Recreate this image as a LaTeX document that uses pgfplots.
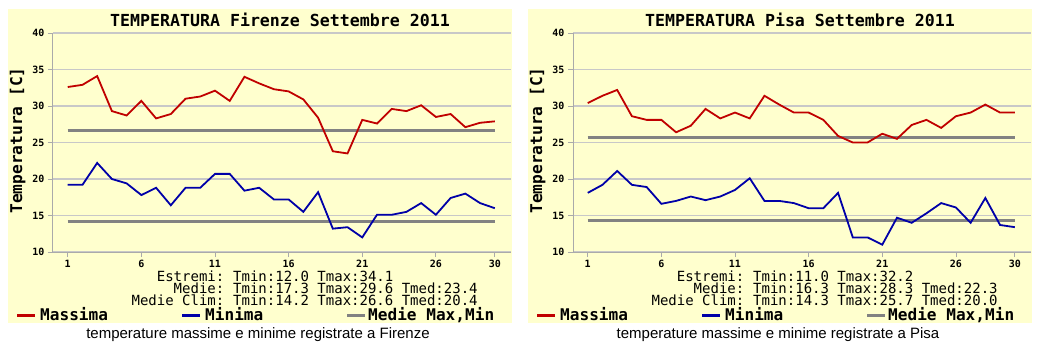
\documentclass[border=0pt]{standalone}
\usepackage{fontspec}
\setmainfont{Liberation Sans}
\newfontfamily\mono{DejaVu Sans Mono}
\usepackage{pgfplots}
\pgfplotsset{compat=1.18}
\definecolor{panel}{RGB}{255,255,206}
\definecolor{tmax}{RGB}{192,0,0}
\definecolor{tmin}{RGB}{0,0,168}
\definecolor{tmed}{RGB}{130,130,130}
\definecolor{gridc}{RGB}{200,200,200}
\definecolor{axc}{RGB}{170,170,170}

\pgfplotstableread{
day fmax fmin pmax pmin
1 32.6 19.2 30.4 18.1
2 32.9 19.2 31.4 19.2
3 34.1 22.2 32.2 21.1
4 29.3 20.0 28.6 19.2
5 28.7 19.4 28.1 18.9
6 30.7 17.8 28.1 16.6
7 28.3 18.8 26.4 17.0
8 28.9 16.4 27.3 17.6
9 31.0 18.8 29.6 17.1
10 31.3 18.8 28.3 17.6
11 32.1 20.7 29.1 18.5
12 30.7 20.7 28.3 20.1
13 34.0 18.4 31.4 17.0
14 33.1 18.8 30.2 17.0
15 32.3 17.2 29.1 16.7
16 32.0 17.2 29.1 16.0
17 30.9 15.5 28.1 16.0
18 28.4 18.2 25.9 18.1
19 23.8 13.2 25.0 12.0
20 23.5 13.4 25.0 12.0
21 28.1 12.0 26.2 11.0
22 27.6 15.1 25.5 14.7
23 29.6 15.1 27.4 14.0
24 29.3 15.5 28.1 15.3
25 30.1 16.7 27.0 16.7
26 28.5 15.1 28.6 16.1
27 28.9 17.4 29.1 14.0
28 27.1 18.0 30.2 17.4
29 27.7 16.7 29.1 13.7
30 27.9 16.0 29.1 13.4
}\datatab

\pgfplotsset{
  meteo/.style={
    anchor=south west,
    scale only axis, width=458pt, height=219pt,
    xmin=0, xmax=31.1, ymin=10, ymax=40,
    axis x line*=bottom, axis y line*=left,
    axis line style={draw=axc, line width=1pt, -},
    xtick={1,6,11,16,21,26,30}, ytick={10,15,...,40},
    ymajorgrids, grid style={draw=gridc, line width=1.2pt},
    tick align=outside, major tick length=5pt,
    tick style={draw=axc, line width=0.8pt},
    ticklabel style={font=\mono\bfseries\fontsize{10}{10}\selectfont},
    /pgf/number format/assume math mode=true,
    ylabel={Temperatura [C]},
    ylabel style={font=\mono\bfseries\fontsize{16.2}{16}\selectfont, xshift=2pt},
    every axis plot/.append style={no markers, sharp plot},
  }
}

\begin{document}
\begin{tikzpicture}[x=1pt,y=1pt]
\fill[white] (0,0) rectangle (1045,357);
\fill[panel] (8,34) rectangle (512,348);
\fill[panel] (528,34) rectangle (1032,348);

% Firenze
\begin{axis}[meteo, at={(53pt,105pt)}]
\addplot[tmed, line width=3pt] coordinates {(1,26.6) (30,26.6)};
\addplot[tmed, line width=3pt] coordinates {(1,14.2) (30,14.2)};
\addplot[tmax, line width=1.8pt] table[x=day, y=fmax] {\datatab};
\addplot[tmin, line width=1.8pt] table[x=day, y=fmin] {\datatab};
\end{axis}

% Pisa
\begin{axis}[meteo, at={(573pt,105pt)}]
\addplot[tmed, line width=3pt] coordinates {(1,25.7) (30,25.7)};
\addplot[tmed, line width=3pt] coordinates {(1,14.3) (30,14.3)};
\addplot[tmax, line width=1.8pt] table[x=day, y=pmax] {\datatab};
\addplot[tmin, line width=1.8pt] table[x=day, y=pmin] {\datatab};
\end{axis}

\tikzset{ttl/.style={font=\mono\bfseries\fontsize{16.6}{16}\selectfont, inner sep=0pt},
         st/.style={font=\mono\fontsize{14}{13}\selectfont, inner sep=0pt},
         lg/.style={font=\mono\bfseries\fontsize{16.1}{16}\selectfont, inner sep=0pt, anchor=base west},
         captxt/.style={font=\fontsize{15}{15}\selectfont, inner sep=0pt, anchor=base}}

\foreach \ox/\city/\emin/\emax/\mmin/\mmax/\mmed/\cmin/\cmax/\cmed in
  {0/Firenze/12.0/34.1/17.3/29.6/23.4/14.2/26.6/20.4,
   520/Pisa/11.0/32.2/16.3/28.3/22.3/14.3/25.7/20.0}{
  \begin{scope}[xshift=\ox]
  \node[ttl] at (280,337) {TEMPERATURA \city\ Settembre 2011};
  \node[st, anchor=base east] at (224.5,76) {Estremi:};
  \node[st, anchor=base west] at (233,76) {Tmin:\emin\ Tmax:\emax};
  \node[st, anchor=base east] at (224.5,64) {Medie:};
  \node[st, anchor=base west] at (233,64) {Tmin:\mmin\ Tmax:\mmax\ Tmed:\mmed};
  \node[st, anchor=base east] at (224.5,52) {Medie Clim:};
  \node[st, anchor=base west] at (233,52) {Tmin:\cmin\ Tmax:\cmax\ Tmed:\cmed};
  \draw[tmax, line width=3pt] (17,42) -- (35,42);
  \node[lg] at (40,37) {Massima};
  \draw[tmin, line width=3pt] (182,42) -- (200,42);
  \node[lg] at (205,37) {Minima};
  \draw[tmed, line width=3pt] (347,42) -- (365,42);
  \node[lg] at (368,37) {Medie Max,Min};
  \node[captxt] at (258,19) {temperature massime e minime registrate a \city};
  \end{scope}
}
\end{tikzpicture}
\end{document}
